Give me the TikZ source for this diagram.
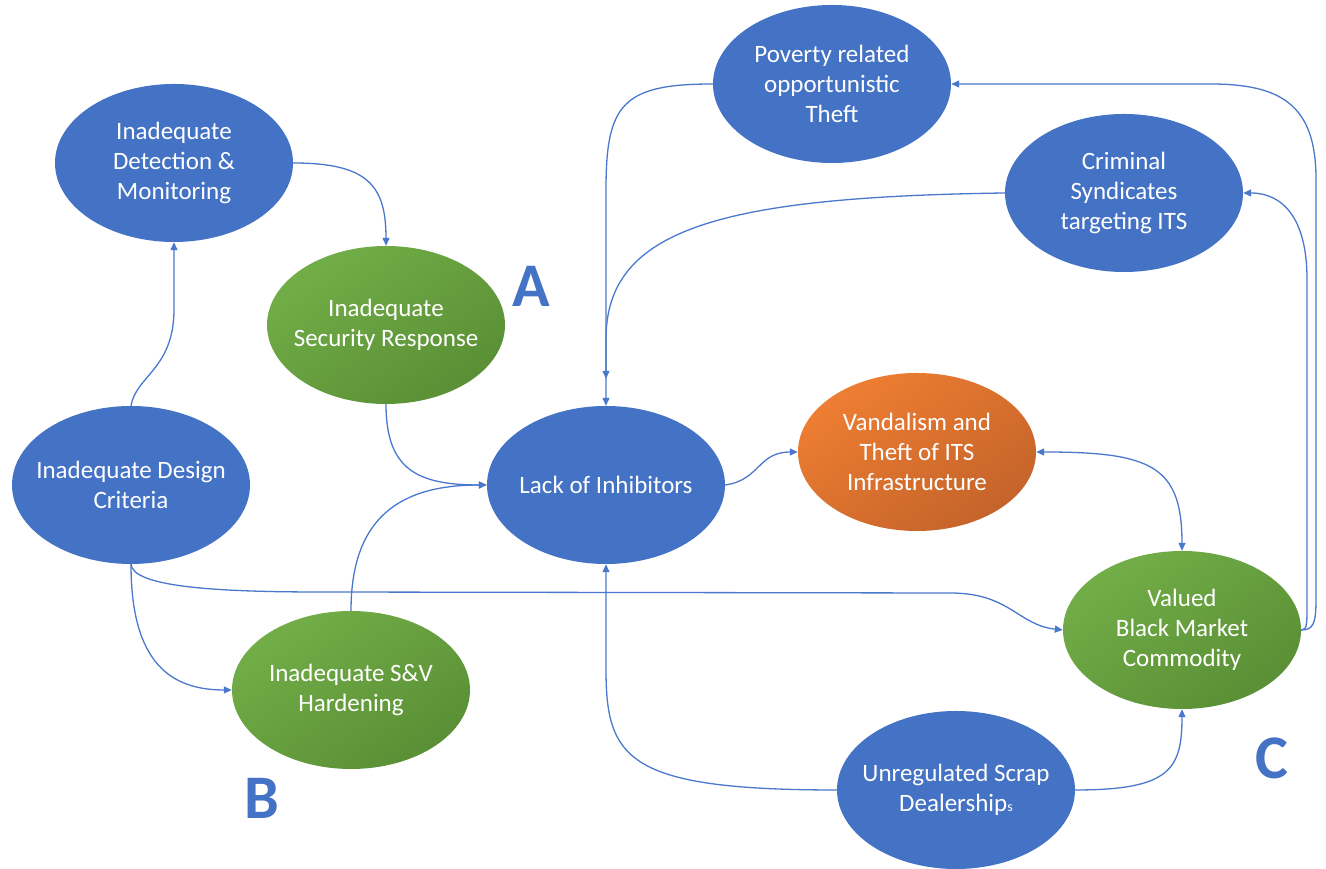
\documentclass[tikz,border=0pt]{standalone}
\usepackage{fontspec}
\setmainfont{Carlito}
\usetikzlibrary{shapes.geometric,arrows.meta}
\definecolor{bl}{HTML}{4472C4}
\definecolor{ln}{HTML}{4A78CC}
\definecolor{gA}{HTML}{72AE48}
\definecolor{gB}{HTML}{5A8F35}
\definecolor{oA}{HTML}{EE7E32}
\definecolor{oB}{HTML}{C4632A}
\begin{document}
\begin{tikzpicture}[x=1pt,y=1pt,
  base/.style={ellipse, minimum width=238pt, minimum height=158pt, inner sep=0pt},
  bnode/.style={base, fill=bl},
  gnode/.style={base, top color=gA, bottom color=gB, shading angle=35},
  onode/.style={base, top color=oA, bottom color=oB, shading angle=35},
  txt/.style={text=white, align=center, font=\fontsize{25}{30}\selectfont},
  con/.style={draw=ln, line width=1.3pt, -{Triangle[length=8pt,width=7pt]}},
  big/.style={text=bl, font=\fontsize{62}{62}\selectfont\bfseries}]
\useasboundingbox (0,0) rectangle (1326,869);

\node[bnode, label={[txt]center:Inadequate\\Detection \&\\Monitoring}] (det) at (174,706) {};
\node[gnode, label={[txt]center:Inadequate\\Security Response}] (sec) at (386,544) {};
\node[bnode, label={[txt]center:Inadequate Design\\Criteria}] (des) at (131,384) {};
\node[gnode, label={[txt]center:Inadequate S\&V\\Hardening}] (sv) at (351,179) {};
\node[bnode, label={[txt]center:Lack of Inhibitors}] (lack) at (606,384) {};
\node[onode, label={[txt]center:Vandalism and\\Theft of ITS\\Infrastructure}] (van) at (917,417) {};
\node[bnode, label={[txt]center:Poverty related\\opportunistic\\Theft}] (pov) at (832,785) {};
\node[bnode, label={[txt]center:Criminal\\Syndicates\\targeting ITS}] (crim) at (1124,676) {};
\node[gnode, label={[txt]center:Valued\\Black Market\\Commodity}] (val) at (1182,239) {};
\node[bnode, label={[txt]center:Unregulated Scrap\\Dealership{\fontsize{14}{14}\selectfont s}}] (scrap) at (956,79) {};

\node[big] (la) at (531,583) {A};
\node[big] (lb) at (262,71) {B};
\node[big] (lc) at (1272,111) {C};

\draw[con] (det.east) .. controls +(75,0) and +(0,60) .. (sec.north);
\draw[con] (des.north) .. controls +(5,30) and +(0,-60) .. (174,560) -- (det.south);
\draw[con] (sec.south) .. controls +(0,-65) and +(-70,0) .. (lack.west);
\draw[con] (sv.north) .. controls +(0,95) and +(-85,0) .. (lack.west);
\draw[con] (des.south) .. controls +(0,-100) and +(-60,0) .. (sv.west);
\draw[con] (des.south) .. controls +(2,-22) and +(-110,0) .. (320,277) -- (950,276) .. controls +(60,0) and +(-45,5) .. (val.west);
\draw[con] (lack.east) .. controls +(35,5) and +(-40,0) .. (van.west);
\draw[con, {Triangle[length=8pt,width=7pt]}-{Triangle[length=8pt,width=7pt]}] (van.east) .. controls +(115,0) and +(0,85) .. (val.north);
\draw[con] (pov.west) .. controls +(-90,0) and +(0,85) .. (606,680) -- (lack.north);
\draw[con, shorten >=27pt] (crim.west) .. controls (720,672) and (606,640) .. (606,530) -- (lack.north);
\draw[con] (val.east) .. controls +(12,0) and +(0,-25) .. (1316,270) -- (1316,690) .. controls +(0,75) and +(70,0) .. (1210,785) -- (pov.east);
\draw[con] (val.east) .. controls +(6,0) and +(0,-20) .. (1307,265) -- (1307,590) .. controls +(0,60) and +(40,0) .. (crim.east);
\draw[con] (scrap.west) .. controls +(-210,0) and +(0,-90) .. (606,200) -- (lack.south);
\draw[con] (scrap.east) .. controls +(95,0) and +(0,-60) .. (val.south);
\end{tikzpicture}
\end{document}
